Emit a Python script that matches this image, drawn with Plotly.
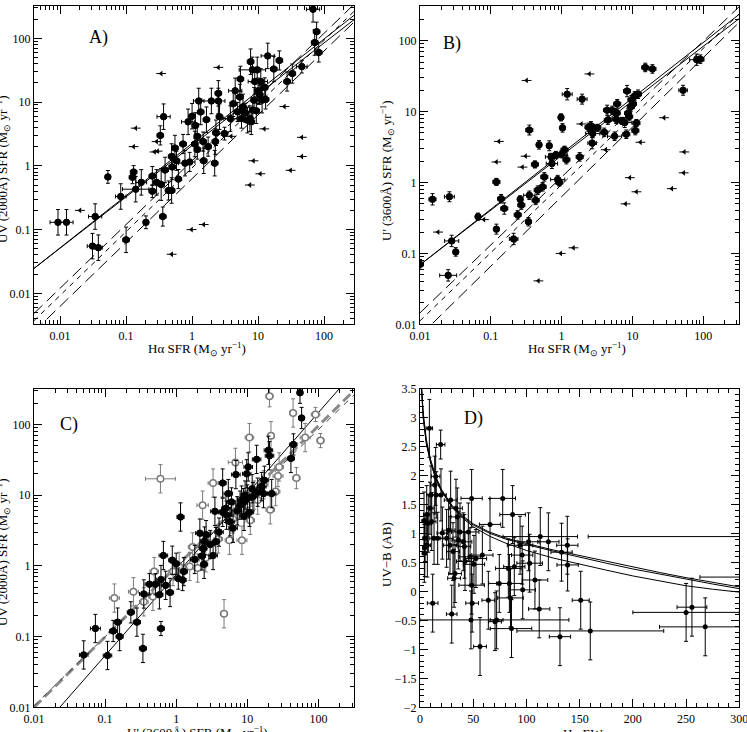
import plotly.graph_objects as go

# ---------------- Panel A : UV(2000A) SFR vs Halpha SFR ----------------
A_ha = [0.0093,0.0125,0.031,0.034,0.038,0.053,0.083,0.10,0.13,0.125,
        0.14,0.17,0.20,0.25,0.25,0.29,0.34,0.36,0.33,0.37,
        0.39,0.44,0.49,0.49,0.50,0.55,0.58,0.62,0.73,0.78,
        0.87,0.92,1.0,1.1,1.12,1.2,1.2,1.26,1.35,1.47,
        1.5,1.65,1.75,1.96,2.2,2.25,2.3,2.5,2.5,2.6,
        3.1,3.8,4.2,4.5,4.9,5.3,5.4,5.6,5.9,6.4,
        6.9,7.5,7.7,7.9,8.2,8.3,8.7,8.9,9.4,9.7,
        10,10.6,11,11.5,12.6,13,14,17.3,21,27.5,
        33,46,68,77,72,83]
A_uv = [0.13,0.13,0.055,0.16,0.052,0.67,0.33,0.069,0.80,0.66,
        0.43,0.55,0.13,0.69,0.40,0.55,0.51,0.16,3.0,5.9,
        0.86,0.41,1.4,0.41,0.96,1.9,1.2,0.62,2.2,1.1,
        4.9,1.15,6.0,2.2,4.3,1.8,2.9,10.4,7.0,2.4,
        1.2,5.3,2.0,10.4,1.1,2.4,3.3,10.4,13.7,5.9,
        3.2,5.5,9.4,15,7.0,12,23,5.5,8.4,6.8,
        5.2,5.5,43,4.9,32,7.5,10.7,21,7.3,32,
        15,13,21,10.7,17,11,53,33,45,21,
        28,36,285,127,86,60]
A_ha_err = [0.12,0.1,0.08,0.1,0.06,0.04,0.08,0.05,0.05,0.05,
            0.2,0.08,0.04,0.05,0.05,0.05,0.05,0.05,0.05,0.1,
            0.05,0.05,0.05,0.05,0.05,0.05,0.05,0.05,0.05,0.1,
            0.1,0.08,0.05,0.05,0.05,0.05,0.05,0.08,0.05,0.05,
            0.05,0.05,0.05,0.15,0.05,0.05,0.05,0.1,0.05,0.05,
            0.05,0.1,0.05,0.1,0.05,0.05,0.05,0.05,0.05,0.05,
            0.05,0.05,0.05,0.05,0.2,0.05,0.05,0.1,0.05,0.05,
            0.05,0.05,0.1,0.05,0.05,0.05,0.1,0.05,0.05,0.05,
            0.05,0.08,0.1,0.05,0.05,0.05]
A_uv_err = [0.2,0.2,0.2,0.2,0.2,0.1,0.2,0.2,0.1,0.1,
            0.2,0.2,0.1,0.15,0.1,0.2,0.25,0.15,0.15,0.2,
            0.2,0.15,0.2,0.2,0.2,0.2,0.15,0.15,0.15,0.2,
            0.2,0.15,0.2,0.2,0.2,0.15,0.2,0.2,0.2,0.15,
            0.2,0.2,0.15,0.2,0.2,0.2,0.2,0.2,0.2,0.2,
            0.1,0.2,0.2,0.2,0.15,0.2,0.2,0.15,0.2,0.15,
            0.2,0.2,0.2,0.2,0.2,0.2,0.2,0.2,0.2,0.2,
            0.2,0.15,0.2,0.2,0.15,0.15,0.2,0.2,0.15,0.15,
            0.15,0.1,0.2,0.15,0.2,0.15]
A_lim_ha = [0.02,0.14,0.13,0.34,0.29,0.30,0.49,0.98,1.5,2.5,3.9,7.5,8.5,10.8,12.4,25,31,46,46,0.27]
A_lim_uv = [0.2,3.9,2.0,28,2.4,1.7,0.041,0.10,0.12,35,2.9,0.5,1.2,0.75,3.8,8.5,0.85,2.8,1.4,1.65]
A_line_x = [0.004, 300]
A_solid1_y = [0.0244, 240]
A_solid2_y = [0.0244, 205]
A_dash_up_y = [0.0048, 360]
A_dash_mid_y = [0.0037, 280]
A_dash_low_y = [0.0025, 190]

# ---------------- Panel B : U'(3600A) SFR vs Halpha SFR ----------------
B_ha = [0.01,0.015,0.026,0.028,0.025,0.032,0.066,0.12,0.12,0.14,
        0.155,0.21,0.24,0.26,0.27,0.35,0.35,0.34,0.42,0.43,
        0.46,0.48,0.54,0.57,0.67,0.71,0.73,0.83,0.88,0.93,
        0.98,1.0,1.03,1.1,1.17,1.2,1.8,1.95,2.4,2.6,
        2.7,2.75,3.2,4.0,4.4,4.5,5.2,5.6,5.9,6.0,
        6.1,7.1,7.8,8.2,8.4,8.7,9.0,9.5,9.7,10.2,
        10.8,11,11.4,12,15.2,19.2,52,81,91]
B_u = [0.07,0.58,0.63,0.15,0.049,0.105,0.33,1.02,0.22,0.59,
       0.43,0.16,0.35,0.58,0.48,5.5,0.66,0.28,1.8,0.56,
       0.78,3.4,0.87,1.2,3.3,2.3,1.85,2.45,1.1,1.0,
       8.3,2.5,5.9,2.9,2.1,17.6,2.3,15,6.0,6.3,
       3.6,4.9,5.9,5.1,10.5,7.6,10.4,4.5,7.8,9.5,
       12.9,7.4,7.0,4.8,19.5,9.5,8.5,11.7,14.7,12.9,
       16.7,5.4,6.9,17.6,42,40,20,54,55]
B_ha_err = [0.05,0.05,0.07,0.1,0.12,0.03,0.03,0.05,0.03,0.05,
            0.05,0.06,0.05,0.03,0.05,0.05,0.08,0.04,0.05,0.05,
            0.05,0.03,0.05,0.05,0.03,0.08,0.08,0.1,0.1,0.05,
            0.03,0.08,0.03,0.05,0.05,0.07,0.05,0.07,0.05,0.05,
            0.06,0.1,0.05,0.05,0.05,0.05,0.05,0.1,0.05,0.05,
            0.05,0.05,0.1,0.05,0.05,0.05,0.05,0.05,0.05,0.05,
            0.05,0.05,0.05,0.05,0.05,0.05,0.06,0.1,0.05]
B_u_err = [0.07,0.08,0.07,0.08,0.08,0.06,0.05,0.05,0.07,0.06,
           0.08,0.08,0.06,0.05,0.06,0.07,0.06,0.06,0.05,0.06,
           0.06,0.06,0.06,0.06,0.07,0.05,0.07,0.05,0.06,0.05,
           0.05,0.05,0.06,0.05,0.06,0.08,0.06,0.07,0.06,0.06,
           0.08,0.06,0.05,0.06,0.07,0.06,0.06,0.06,0.06,0.06,
           0.06,0.05,0.07,0.06,0.08,0.06,0.06,0.06,0.06,0.06,
           0.06,0.06,0.05,0.06,0.06,0.06,0.07,0.08,0.06]
B_lim_ha = [0.018,0.13,0.12,0.32,0.31,0.28,0.47,0.97,1.47,2.47,1.9,4.2,8.0,9.2,11.4,13,28,36,54,53,0.08]
B_lim_u = [0.2,3.8,1.95,27.5,2.35,1.65,0.041,0.1,0.12,34,6.7,2.9,0.5,1.17,0.74,3.7,8.2,0.82,2.7,1.37,0.3]
B_line_x = [0.01, 330]
B_solid1_y = [0.069, 209]
B_solid2_y = [0.069, 240]
B_dash_up_y = [0.0145, 309]
B_dash_mid_y = [0.0112, 245]
B_dash_low_y = [0.0069, 186]

# ---------------- Panel C : UV(2000A) SFR vs U'(3600A) SFR ----------------
C_fill_u = [0.05,0.073,0.108,0.13,0.15,0.16,0.23,0.28,0.34,0.35,
            0.42,0.51,0.58,0.61,0.61,0.66,0.71,0.82,0.88,1.0,
            1.07,1.15,1.23,1.28,1.82,2.15,2.3,2.4,2.47,2.5,
            2.63,3.3,3.5,3.6,4.5,4.5,5.1,5.4,5.7,6.3,
            6.9,7.9,8.3,9.3,9.8,10.3,10.7,11.7,13.5,15.9,
            16.9,17.4,19.8,20.5,22,41,44.5,55,58,
            5.0,6.0,7.2,8.8,9.0,10.0,12.0,14.0,3.0,4.0]
C_fill_uv = [0.055,0.13,0.054,0.12,0.16,0.10,0.22,0.16,0.068,0.4,
             0.55,0.55,0.39,0.64,0.13,1.4,0.53,0.42,1.2,1.07,
             0.66,4.9,0.63,0.83,1.23,2.9,1.38,1.75,1.05,2.24,
             2.76,1.4,5.9,2.2,5.7,14.8,5.2,10.5,4.2,3.4,
             19.5,7.2,8.5,10,20,25,5.7,12.3,32,13.2,
             10.5,16.2,43,36,10.5,33,52,280,123,
             6.5,8.0,6.0,7.8,5.0,8.8,9.5,11,2.0,3.0]
C_fill_uerr = [0.06,0.07,0.06,0.05,0.05,0.05,0.05,0.05,0.05,0.06,
               0.06,0.06,0.05,0.06,0.05,0.06,0.06,0.05,0.05,0.05,
               0.06,0.05,0.05,0.05,0.06,0.06,0.05,0.05,0.05,0.06,
               0.06,0.06,0.06,0.05,0.06,0.05,0.06,0.06,0.06,0.06,
               0.06,0.06,0.06,0.06,0.06,0.06,0.06,0.06,0.06,0.06,
               0.06,0.06,0.06,0.06,0.06,0.05,0.05,0.04,0.04,
               0.06,0.06,0.06,0.06,0.06,0.06,0.06,0.06,0.06,0.06]
C_fill_uverr = [0.2,0.2,0.2,0.15,0.2,0.2,0.15,0.2,0.2,0.2,
                0.15,0.15,0.2,0.2,0.1,0.2,0.2,0.2,0.2,0.15,
                0.15,0.2,0.15,0.2,0.2,0.2,0.2,0.2,0.2,0.2,
                0.2,0.2,0.2,0.2,0.2,0.2,0.2,0.2,0.2,0.2,
                0.2,0.2,0.2,0.2,0.2,0.2,0.2,0.2,0.2,0.2,
                0.2,0.2,0.2,0.2,0.2,0.2,0.15,0.15,0.15,
                0.2,0.2,0.2,0.2,0.2,0.2,0.2,0.2,0.2,0.2]
C_open_u = [0.6,0.135,0.25,0.35,0.49,0.47,1.55,2.0,2.35,3.3,
            4.7,6.8,8.4,10.7,20.5,21.5,27,44,49,65,
            91,107,25,21,11,6.3,7.4,9.8,12.5,14.0,
            3.9,5.6,1.7,0.9,1.1,2.6,17,28]
C_open_uv = [17,0.35,0.43,0.31,0.83,0.37,0.98,0.93,7.2,14.8,
             0.21,29,2.3,65,250,69,18.6,145,17.4,65,
             138,59,11.2,6.2,4.4,4.6,5.8,7.3,10,8.5,
             2.4,2.3,1.85,0.83,0.98,1.3,14,25]
C_open_uerr = [0.21,0.07,0.07,0.06,0.06,0.06,0.06,0.06,0.08,0.07,
               0.05,0.1,0.07,0.06,0.05,0.05,0.07,0.05,0.05,0.07,
               0.06,0.05,0.06,0.06,0.06,0.07,0.07,0.06,0.06,0.06,
               0.06,0.06,0.06,0.06,0.06,0.06,0.06,0.06]
C_open_uverr = [0.2,0.2,0.2,0.2,0.2,0.2,0.2,0.2,0.2,0.2,
                0.2,0.2,0.2,0.2,0.15,0.2,0.15,0.2,0.15,0.2,
                0.1,0.1,0.2,0.2,0.2,0.2,0.2,0.2,0.2,0.2,
                0.2,0.2,0.2,0.2,0.2,0.2,0.2,0.2]
C_line_x = [0.01, 316]
C_dash1_y = [0.01, 300]
C_dash2_y = [0.0105, 260]
C_solid_x = [0.02, 316]
C_solid_y = [0.0085, 550]

# ---------------- Panel D : UV-B colour vs Halpha EW ----------------
D_ew = [3.8,4.7,4.1,4.5,6.3,6.9,7.8,8.8,9.4,10.3,
        11,11.9,13.2,13.8,14.7,15.3,16.6,19.4,19.7,21,
        25,26.9,28.2,28.8,29.8,31,32,32.9,33.8,35,
        36,37.6,40.7,41.7,42.3,45.4,47,47.9,48.5,48.5,
        49,50.7,52.6,56.4,58.6,64.2,65.8,70.5,72,74.5,
        77.7,83,84,85,86,87,88.6,94,96,96.5,
        102,103,108,112,113,120.6,131.5,133,138.4,138.7,
        151,160,250,255.5,268,340,330]
D_col = [1.22,0.92,0.66,0.76,1.33,0.80,1.18,2.82,1.44,1.67,
         1.21,-0.2,0.92,1.84,1.99,1.67,0.92,2.54,1.67,1.01,
         0.92,1.06,0.80,1.58,-0.39,0.69,0.23,0.31,1.44,1.29,
         0.89,1.03,0.86,0.78,0.52,1.03,0.60,-0.49,1.61,0.11,
         -0.2,0.47,0.57,-0.95,0.63,-0.15,1.16,-0.52,-0.49,0.14,
         1.61,0.40,0.14,-0.11,-0.64,1.33,0.43,0.80,0.63,0.03,
         0.86,0.49,0.20,-0.30,0.95,0.86,-0.78,0.68,0.80,0.46,
         -0.15,-0.68,-0.36,-0.27,-0.61,0.95,0.25]
D_xerr_m = [2,2,2,2,3,3,3,3,3,4,
            4,5,4,4,4,4,5,4,5,5,
            6,6,6,6,5,6,6,6,6,6,
            6,8,8,6,8,10,10,48,10,12,
            6,10,10,6,10,6,10,6,6,10,
            12,12,12,12,20,12,10,12,10,12,
            10,12,12,10,35,10,10,10,10,10,
            8,69,50,14,43,182,67]
D_xerr_p = [2,2,2,2,3,3,3,3,3,4,
            4,5,4,4,4,4,5,4,5,5,
            6,6,6,6,5,6,6,6,6,6,
            6,8,8,6,8,10,10,92,10,12,
            6,10,10,6,10,6,10,6,6,10,
            12,12,12,12,19,12,10,12,10,12,
            10,12,12,10,35,10,10,10,10,10,
            8,69,50,14,43,100,50]
D_yerr = [0.5,0.4,0.5,0.5,0.5,0.55,0.5,0.5,0.45,0.5,
          0.5,0.5,0.45,0.5,0.5,0.4,0.45,0.25,0.45,0.45,
          0.5,0.5,0.5,0.5,0.5,0.5,0.5,0.5,0.5,0.5,
          0.5,0.5,0.5,0.55,0.5,0.5,0.5,0.5,0.5,0.5,
          0.5,0.5,0.5,0.5,0.5,0.5,0.45,0.5,0.5,0.5,
          0.5,0.5,0.5,0.5,0.5,0.5,0.5,0.5,0.5,0.5,
          0.5,0.5,0.5,0.5,0.5,0.5,0.5,0.5,0.5,0.45,
          0.5,0.5,0.5,0.5,0.5,0,0]
D_curve_x = [1.5,3,6,10,15,20,30,40,50,65,80,100,125,150,175,200,225,250,275,300]
D_curve1_y = [3.5,3.1,2.62,2.28,1.98,1.77,1.49,1.31,1.17,1.03,0.93,0.83,0.72,0.62,0.52,0.42,0.33,0.24,0.16,0.08]
D_curve2_y = [3.5,3.02,2.56,2.24,1.95,1.75,1.47,1.29,1.15,1.01,0.91,0.81,0.70,0.59,0.49,0.39,0.30,0.21,0.13,0.05]
D_curve3_y = [3.5,3.0,2.55,2.22,1.94,1.74,1.46,1.27,1.12,0.96,0.84,0.71,0.58,0.47,0.37,0.27,0.18,0.10,0.04,-0.01]

LOG_TICKS = [0.01, 0.1, 1, 10, 100]
LOG_TICKTEXT = ["0.01", "0.1", "1", "10", "100"]
D_XTICKS = [0, 50, 100, 150, 200, 250, 300]
D_YTICKS = [-2, -1.5, -1, -0.5, 0, 0.5, 1, 1.5, 2, 2.5, 3, 3.5]
D_YTICKTEXT = ["\u22122", "\u22121.5", "\u22121", "\u22120.5", "0", "0.5", "1", "1.5", "2", "2.5", "3", "3.5"]


def logerr(vals, dex):
    plus = [v * (10 ** d - 1) for v, d in zip(vals, dex)]
    minus = [v * (1 - 10 ** (-d)) for v, d in zip(vals, dex)]
    return plus, minus


SERIF = "Liberation Serif"
fig = go.Figure()


def err_points(x, y, xd, yd, xa, ya, color="black", fill="black", size=6.5, lw=1):
    xp, xm = logerr(x, xd)
    yp, ym = logerr(y, yd)
    fig.add_trace(go.Scatter(
        x=x, y=y, mode="markers", xaxis=xa, yaxis=ya,
        marker=dict(symbol="circle", size=size, color=fill, line=dict(color=color, width=lw)),
        error_x=dict(type="data", array=xp, arrayminus=xm, color=color, thickness=1, width=2),
        error_y=dict(type="data", array=yp, arrayminus=ym, color=color, thickness=1, width=2),
        showlegend=False, hoverinfo="skip"))


def limits(x, y, xa, ya):
    fig.add_trace(go.Scatter(
        x=x, y=y, mode="markers", xaxis=xa, yaxis=ya,
        marker=dict(symbol="line-ew", size=7, line=dict(color="black", width=1)),
        showlegend=False, hoverinfo="skip"))
    fig.add_trace(go.Scatter(
        x=x, y=y, mode="markers", xaxis=xa, yaxis=ya,
        marker=dict(symbol="triangle-left", size=5, color="black", line=dict(width=0)),
        showlegend=False, hoverinfo="skip"))


def line(x, y, xa, ya, dash="solid", color="black", width=1):
    fig.add_trace(go.Scatter(
        x=x, y=y, mode="lines", xaxis=xa, yaxis=ya,
        line=dict(color=color, width=width, dash=dash),
        showlegend=False, hoverinfo="skip"))


# Panel A
line(A_line_x, A_solid1_y, "x", "y")
line(A_line_x, A_solid2_y, "x", "y")
line(A_line_x, A_dash_up_y, "x", "y", dash="12px,6px")
line(A_line_x, A_dash_mid_y, "x", "y", dash="5px,5px")
line(A_line_x, A_dash_low_y, "x", "y", dash="12px,6px")
err_points(A_ha, A_uv, A_ha_err, A_uv_err, "x", "y")
limits(A_lim_ha, A_lim_uv, "x", "y")

# Panel B
line(B_line_x, B_solid1_y, "x2", "y2")
line(B_line_x, B_solid2_y, "x2", "y2")
line(B_line_x, B_dash_up_y, "x2", "y2", dash="12px,6px")
line(B_line_x, B_dash_mid_y, "x2", "y2", dash="5px,5px")
line(B_line_x, B_dash_low_y, "x2", "y2", dash="12px,6px")
err_points(B_ha, B_u, B_ha_err, B_u_err, "x2", "y2")
limits(B_lim_ha, B_lim_u, "x2", "y2")

# Panel C
line(C_line_x, C_dash1_y, "x3", "y3", dash="10px,5px", color="#8a8a8a", width=3)
line(C_line_x, C_dash2_y, "x3", "y3", dash="6px,6px", color="#444444", width=1)
line(C_solid_x, C_solid_y, "x3", "y3")
err_points(C_open_u, C_open_uv, C_open_uerr, C_open_uverr, "x3", "y3",
           color="#7a7a7a", fill="white", size=6.5, lw=1.5)
err_points(C_fill_u, C_fill_uv, C_fill_uerr, C_fill_uverr, "x3", "y3")

# Panel D
line(D_curve_x, D_curve1_y, "x4", "y4")
line(D_curve_x, D_curve2_y, "x4", "y4")
line(D_curve_x, D_curve3_y, "x4", "y4")
fig.add_trace(go.Scatter(
    x=D_ew, y=D_col, mode="markers", xaxis="x4", yaxis="y4",
    marker=dict(symbol="circle", size=5, color="black"),
    error_x=dict(type="data", array=D_xerr_p, arrayminus=D_xerr_m, color="black", thickness=1, width=2),
    error_y=dict(type="data", array=D_yerr, color="black", thickness=1, width=2),
    showlegend=False, hoverinfo="skip"))

minor_log = [m * 10 ** e for e in range(-3, 3) for m in range(2, 10)]

common = dict(ticks="inside", ticklen=8, tickwidth=1, tickcolor="black",
              mirror="allticks", showline=True, linecolor="black", linewidth=1,
              showgrid=False, zeroline=False, ticklabeloverflow="allow", automargin=False,
              tickfont=dict(family=SERIF, size=12, color="black"))


def logaxis(domain, anchor, rng):
    d = dict(type="log", domain=domain, anchor=anchor, range=rng,
             tickmode="array", tickvals=LOG_TICKS, ticktext=LOG_TICKTEXT,
             minor=dict(tickmode="array", tickvals=minor_log, ticks="inside",
                        ticklen=4, tickcolor="black", showgrid=False))
    d.update(common)
    return d


XL = [34 / 747, 354 / 747]
XR = [420 / 747, 739.3 / 747]
YT = [1 - 324.3 / 732, 1 - 6 / 732]
YB = [1 - 707.3 / 732, 1 - 389 / 732]

xaxis4 = dict(domain=XR, anchor="y4", range=[0, 300], tickmode="array", tickvals=D_XTICKS,
              minor=dict(dtick=10, ticks="inside", ticklen=4, tickcolor="black", showgrid=False))
xaxis4.update(common)
yaxis4 = dict(domain=YB, anchor="x4", range=[-2, 3.5], tickmode="array", tickvals=D_YTICKS,
              ticktext=D_YTICKTEXT,
              minor=dict(dtick=0.1, ticks="inside", ticklen=4, tickcolor="black", showgrid=False))
yaxis4.update(common)

fig.update_layout(
    width=747, height=732, margin=dict(l=0, r=0, t=0, b=0, autoexpand=False),
    paper_bgcolor="white", plot_bgcolor="white", showlegend=False,
    xaxis=logaxis(XL, "y", [-2.395, 2.453]),
    yaxis=logaxis(YT, "x", [-2.486, 2.507]),
    xaxis2=logaxis(XR, "y2", [-2, 2.51]),
    yaxis2=logaxis(YT, "x2", [-2, 2.49]),
    xaxis3=logaxis(XL, "y3", [-2, 2.5]),
    yaxis3=logaxis(YB, "x3", [-2, 2.5]),
    xaxis4=xaxis4, yaxis4=yaxis4,
)

tf = dict(family=SERIF, size=13, color="black")
lf = dict(family=SERIF, size=18, color="black")
MSUN = "M<sub>\u2299</sub>"
YR = "yr<sup>\u22121</sup>"
ann = [
    dict(x=98 / 747, y=1 - 38 / 732, text="A)", font=lf),
    dict(x=452 / 747, y=1 - 43 / 732, text="B)", font=lf),
    dict(x=69 / 747, y=1 - 424 / 732, text="C)", font=lf),
    dict(x=473 / 747, y=1 - 418 / 732, text="D)", font=lf),
    dict(x=197 / 747, y=1 - 349 / 732, text=f"H\u03b1 SFR ({MSUN} {YR})", font=tf),
    dict(x=577 / 747, y=1 - 349 / 732, text=f"H\u03b1 SFR ({MSUN} {YR})", font=tf),
    dict(x=197 / 747, y=1 - 733 / 732, text=f"U' (3600\u00c5) SFR ({MSUN} {YR})", font=tf),
    dict(x=583 / 747, y=1 - 734 / 732, text="H\u03b1 EW", font=tf),
    dict(x=3 / 747, y=1 - 170 / 732, text=f"UV (2000\u00c5) SFR ({MSUN} {YR})", font=tf, textangle=-90),
    dict(x=387 / 747, y=1 - 171 / 732, text=f"U' (3600\u00c5) SFR ({MSUN} {YR})", font=tf, textangle=-90),
    dict(x=3 / 747, y=1 - 553 / 732, text=f"UV (2000\u00c5) SFR ({MSUN} {YR})", font=tf, textangle=-90),
    dict(x=386 / 747, y=1 - 555 / 732, text="UV\u2212B (AB)", font=tf, textangle=-90),
]
for a in ann:
    a.update(xref="paper", yref="paper", showarrow=False, xanchor="center", yanchor="middle")
fig.update_layout(annotations=ann)

fig.write_html("out.html")
